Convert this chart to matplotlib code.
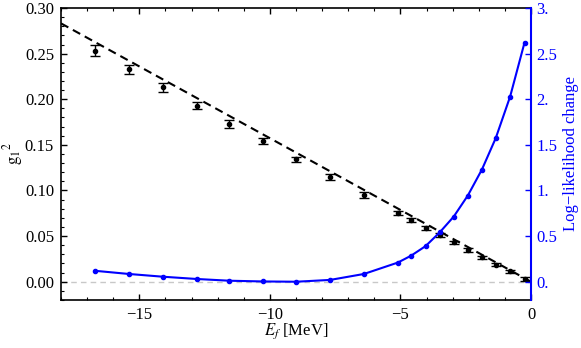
import matplotlib
matplotlib.use("Agg")
import matplotlib.pyplot as plt
import numpy as np
from matplotlib.ticker import MultipleLocator, FixedLocator

plt.rcParams['font.family'] = ['Liberation Serif', 'DejaVu Serif']
plt.rcParams['mathtext.fontset'] = 'stix'

# binding energies (MeV)
ef = [-16.7, -15.4, -14.1, -12.8, -11.55, -10.26, -8.99, -7.69, -6.40,
      -5.10, -4.59, -4.04, -3.50, -2.96, -2.42, -1.88, -1.35, -0.80, -0.25]

# g1^2 with errors
g2 = [0.253, 0.233, 0.213, 0.193, 0.173, 0.154, 0.134, 0.115, 0.095,
      0.0755, 0.068, 0.059, 0.051, 0.043, 0.035, 0.0267, 0.0187, 0.0113, 0.003]
g2_err = [0.006, 0.005, 0.005, 0.004, 0.004, 0.003, 0.003, 0.003, 0.003,
          0.002, 0.002, 0.002, 0.002, 0.002, 0.002, 0.002, 0.002, 0.002, 0.002]

# log-likelihood change
dlogl = [0.12, 0.085, 0.055, 0.03, 0.011, 0.003, 0.0, 0.02, 0.085,
         0.21, 0.286, 0.39, 0.54, 0.714, 0.945, 1.23, 1.575, 2.03, 2.62]

# linear fit g1^2 = a + b*Ef
fit_a = 0.0
fit_b = -0.01573

fig = plt.figure(figsize=(5.81, 3.48), dpi=100)
ax = fig.add_axes([0.105, 0.138, 0.809, 0.839])
ax2 = ax.twinx()

ax.axhline(0, color='#c8c8c8', lw=1.0, dashes=(4, 3), zorder=0)

xfit = np.array([-18, 0])
ax.plot(xfit, fit_a + fit_b * xfit, color='black', lw=1.5, dashes=(4, 2.5))
ax.errorbar(ef, g2, yerr=g2_err, fmt='o', color='black', ms=3, capsize=3.5,
            elinewidth=1, capthick=1)

ax2.plot(ef, dlogl, '-o', color='blue', lw=1.5, ms=3)

ax.set_xlim(-18, 0)
ax.set_ylim(-0.02, 0.30)
ax2.set_ylim(-0.2, 3.0)

ax.xaxis.set_minor_locator(MultipleLocator(1))
ax.yaxis.set_minor_locator(MultipleLocator(0.01))
ax.set_xticks([-15, -10, -5, 0])
ax.set_xticklabels(['\u221215', '\u221210', '\u22125', '0'])
yt = [0.0, 0.05, 0.10, 0.15, 0.20, 0.25, 0.30]
ax.set_yticks(yt)
ax.set_yticklabels(['%.2f' % v for v in yt])

rt = [0, 0.5, 1, 1.5, 2, 2.5, 3]
ax2.yaxis.set_major_locator(FixedLocator(rt))
ax2.set_yticklabels(['0.', '0.5', '1.', '1.5', '2.', '2.5', '3.'])

ax.tick_params(which='both', direction='in', top=True, right=False, labelsize=12, color='black')
ax.tick_params(which='major', length=4, width=1, pad=5)
ax.tick_params(which='minor', length=2.5, width=0.8)
ax2.tick_params(which='both', direction='in', colors='blue', labelsize=12, length=4, width=1, pad=4)

for s in ['left', 'bottom', 'top']:
    ax.spines[s].set_linewidth(1.2)
ax.spines['right'].set_visible(False)
ax2.spines['right'].set_color('blue')
ax2.spines['right'].set_linewidth(1.5)
for s in ['left', 'bottom', 'top']:
    ax2.spines[s].set_visible(False)

ax.set_xlabel(r'$E_f$ [MeV]', fontsize=12)
ax.xaxis.set_label_coords(0.5, -0.075)
ax.set_ylabel(r'$\mathrm{g_1}^2$', fontsize=12)
ax.yaxis.set_label_coords(-0.076, 0.5)
ax2.set_ylabel('Log\u2212likelihood change', fontsize=12, color='blue')
ax2.yaxis.set_label_coords(1.068, 0.5)

fig.savefig('out.png', dpi=100)
